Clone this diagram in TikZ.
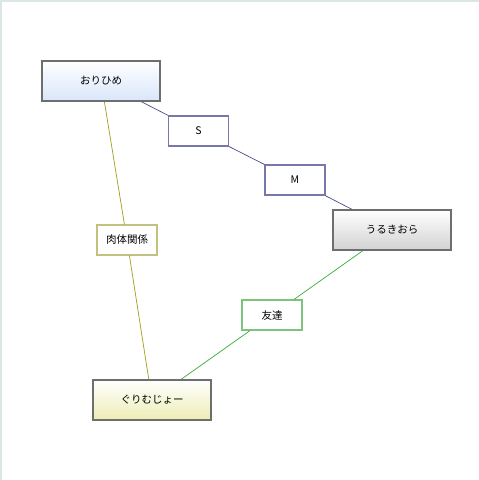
\documentclass[tikz,border=0pt]{standalone}
\usepackage{fontspec}
\setmainfont{Noto Sans CJK JP}
\usepackage{tikz}
\usetikzlibrary{positioning}

\definecolor{frameedge}{HTML}{DDE6E6}
\definecolor{boxedge}{HTML}{6E6E6E}
\definecolor{slinecol}{HTML}{4A4A8E}
\definecolor{sboxcol}{HTML}{7777AA}
\definecolor{olivecol}{HTML}{9E9E1E}
\definecolor{olivebox}{HTML}{C2C280}
\definecolor{greencol}{HTML}{3AAA3A}
\definecolor{greenbox}{HTML}{7CC47C}
\definecolor{blueshade}{HTML}{D8E6FA}
\definecolor{grayshade}{HTML}{D2D2D2}
\definecolor{yellowshade}{HTML}{EDEDB5}

\begin{document}
\begin{tikzpicture}[
  x=1pt, y=-1pt,
  every node/.style={font=\fontsize{10.5}{12}\selectfont},
  person/.style={draw=boxedge, line width=1.6pt, minimum width=118pt, minimum height=40pt, top color=white},
  tag/.style={draw, fill=white, line width=1.2pt, minimum width=60pt, minimum height=30pt}
]
  \useasboundingbox (0,0) rectangle (479,480);
  \fill[frameedge] (0,0) rectangle (479,480);
  \fill[white] (2,2) rectangle (479,480);

  % people
  \node[person, bottom color=blueshade] (orihime) at (101,81) {おりひめ};
  \node[person, bottom color=grayshade] (urukiora) at (392,230) {うるきおら};
  \node[person, bottom color=yellowshade] (grimmjow) at (152,400) {ぐりむじょー};

  % relation labels
  \node[tag, draw=sboxcol] (rel s) at (198.5,131) {S};
  \node[tag, draw=sboxcol] (rel m) at (295,180) {M};
  \node[tag, draw=olivebox] (rel body) at (127,240) {肉体関係};
  \node[tag, draw=greenbox] (rel friend) at (272,315) {友達};

  \draw[slinecol, line width=0.7pt] (orihime) -- (rel s) -- (rel m) -- (urukiora);
  \draw[olivecol, line width=0.7pt] (orihime) -- (rel body) -- (grimmjow);
  \draw[greencol, line width=0.7pt] (urukiora) -- (rel friend) -- (grimmjow);
\end{tikzpicture}
\end{document}
